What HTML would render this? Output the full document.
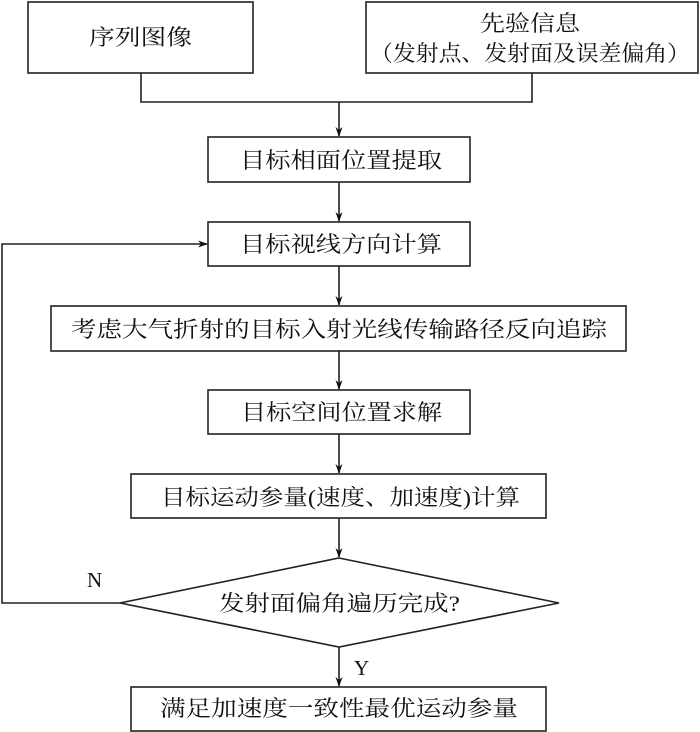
<!DOCTYPE html>
<html><head><meta charset="utf-8"><style>
html,body{margin:0;padding:0;background:#fff;}
svg{display:block;}
text{font-family:"Liberation Serif","Noto Serif CJK SC","Noto Sans CJK SC",serif;font-size:22px;fill:#111;}
</style></head><body>
<svg width="700" height="732" viewBox="0 0 700 732" xmlns="http://www.w3.org/2000/svg">
<defs>
<marker id="a" markerWidth="10" markerHeight="10" refX="9" refY="5" orient="auto" markerUnits="userSpaceOnUse">
<path d="M0,1.5 L10,5 L0,8.5 L3,5 Z" fill="#111"/>
</marker>
</defs>
<g fill="none" stroke="#222" stroke-width="1.6">
<rect x="28" y="2" width="225" height="71"/>
<rect x="366" y="2" width="332" height="71"/>
<polyline points="141,73 141,102 532,102 532,73"/>
<line x1="339" y1="102" x2="339" y2="136" marker-end="url(#a)"/>
<rect x="208" y="137" width="262" height="45"/>
<line x1="339" y1="182" x2="339" y2="221" marker-end="url(#a)"/>
<rect x="208" y="222" width="262" height="44"/>
<line x1="339" y1="266" x2="339" y2="305" marker-end="url(#a)"/>
<rect x="51" y="306" width="575" height="45"/>
<line x1="339" y1="351" x2="339" y2="389" marker-end="url(#a)"/>
<rect x="208" y="390" width="262" height="44"/>
<line x1="339" y1="434" x2="339" y2="473" marker-end="url(#a)"/>
<rect x="131" y="474" width="415" height="44"/>
<line x1="339" y1="518" x2="339" y2="557" marker-end="url(#a)"/>
<polygon points="339,558 559,603 339,647 120,603"/>
<polyline points="120,603 2,603 2,244 207,244" marker-end="url(#a)"/>
<line x1="339" y1="647" x2="339" y2="686" marker-end="url(#a)"/>
<rect x="131" y="687" width="415" height="44"/>
</g>
<text x="89" y="45" textLength="103" lengthAdjust="spacingAndGlyphs">序列图像</text>
<text x="480" y="31" textLength="100" lengthAdjust="spacingAndGlyphs">先验信息</text>
<text x="370" y="61" textLength="320" lengthAdjust="spacingAndGlyphs">（发射点、发射面及误差偏角）</text>
<text x="240" y="168" textLength="202" lengthAdjust="spacingAndGlyphs">目标相面位置提取</text>
<text x="240" y="252" textLength="202" lengthAdjust="spacingAndGlyphs">目标视线方向计算</text>
<text x="71" y="337" textLength="536" lengthAdjust="spacingAndGlyphs">考虑大气折射的目标入射光线传输路径反向追踪</text>
<text x="241" y="420" textLength="201" lengthAdjust="spacingAndGlyphs">目标空间位置求解</text>
<text x="161" y="505" textLength="359" lengthAdjust="spacingAndGlyphs">目标运动参量(速度、加速度)计算</text>
<text x="219" y="611" textLength="241" lengthAdjust="spacingAndGlyphs">发射面偏角遍历完成?</text>
<text x="160" y="716" textLength="358" lengthAdjust="spacingAndGlyphs">满足加速度一致性最优运动参量</text>
<text x="87" y="587" style="font-family:'Liberation Serif',serif;font-size:21px">N</text>
<text x="354" y="675" style="font-family:'Liberation Serif',serif;font-size:21px">Y</text>
</svg>
</body></html>
